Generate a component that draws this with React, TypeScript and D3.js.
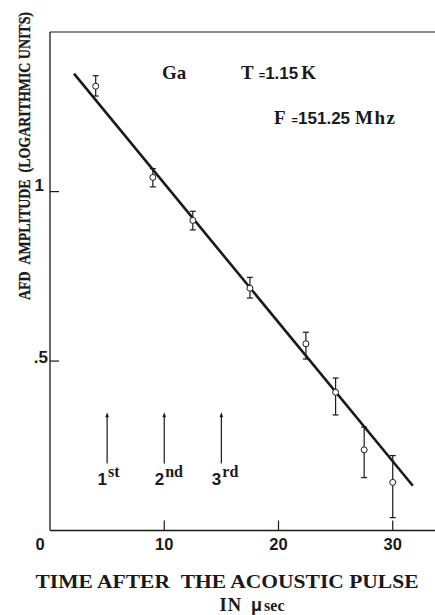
import React from "react";
import * as d3 from "d3";

const times = [4, 9, 12.5, 17.5, 22.4, 25, 27.5, 30];
const amps = [1.311, 1.042, 0.915, 0.715, 0.551, 0.408, 0.238, 0.142];
const errHigh = [1.342, 1.068, 0.942, 0.747, 0.585, 0.45, 0.305, 0.221];
const errLow = [1.282, 1.014, 0.887, 0.686, 0.506, 0.341, 0.156, 0.038];
const fitX = [2.1, 31.76];
const fitY = [1.348, 0.132];
const xTicks = [10, 20, 30];
const xTickLabels = ["0", "10", "20", "30"];
const xTickLabelPos = [0, 10, 20, 30];
const yTicks = [1, 0.5];
const yTickLabels = ["1", ".5"];
const arrowX = [5, 10, 15];
const arrowTop = 0.349;
const arrowBottom = 0.198;
const arrowDigits = ["1", "2", "3"];
const arrowSup = ["st", "nd", "rd"];

const SERIF = "'Liberation Serif', 'DejaVu Serif', serif";
const SANS = "'Liberation Sans', Arial, sans-serif";
const NB = "\u00A0";

export default function App() {
  const x = d3.scaleLinear().domain([0, 33.7]).range([50, 435]);
  const y = d3.scaleLinear().domain([0, 1.471]).range([530.5, 32]);
  const line = d3
    .line<number>()
    .x((d, i) => x(fitX[i]))
    .y((d) => y(d));
  const ink = "#1a1a1a";

  return (
    <svg
      width={435}
      height={615}
      style={{ position: "absolute", left: 0, top: 0, background: "#fff" }}
    >
      {/* frame */}
      <line x1={x(0)} x2={435} y1={y(0)} y2={y(0)} stroke={ink} strokeWidth={1.3} />
      <line x1={x(0)} x2={x(0)} y1={y(0)} y2={y(1.471)} stroke={ink} strokeWidth={1.3} />
      <line x1={x(0)} x2={435} y1={y(1.471)} y2={y(1.471)} stroke={ink} strokeWidth={1.1} />

      {/* x ticks */}
      {xTicks.map((t) => (
        <line key={t} x1={x(t)} x2={x(t)} y1={y(0)} y2={y(0) - 10} stroke={ink} strokeWidth={1.2} />
      ))}
      {xTickLabels.map((l, i) => (
        <text
          key={l}
          x={x(xTickLabelPos[i]) - (i === 0 ? 10 : 0)}
          y={550}
          textAnchor="middle"
          fontFamily={SANS}
          fontWeight="bold"
          fontSize={16.5}
          fill={ink}
        >
          {l}
        </text>
      ))}

      {/* y ticks */}
      {yTicks.map((t) => (
        <line key={t} x1={x(0)} x2={x(0) + 9} y1={y(t)} y2={y(t)} stroke={ink} strokeWidth={1.2} />
      ))}
      {yTickLabels.map((l, i) => (
        <text
          key={l}
          x={i === 0 ? 44 : 48}
          y={y(yTicks[i]) + (i === 0 ? -1 : 2)}
          textAnchor="end"
          fontFamily={SANS}
          fontWeight="bold"
          fontSize={17}
          fill={ink}
        >
          {l}
        </text>
      ))}

      {/* fit line */}
      <path d={line(fitY) || ""} fill="none" stroke={ink} strokeWidth={2.6} />

      {/* error bars + points */}
      {times.map((t, i) => (
        <g key={t}>
          <line x1={x(t)} x2={x(t)} y1={y(errHigh[i])} y2={y(errLow[i])} stroke={ink} strokeWidth={1.2} />
          <line x1={x(t) - 3} x2={x(t) + 3} y1={y(errHigh[i])} y2={y(errHigh[i])} stroke={ink} strokeWidth={1.2} />
          <line x1={x(t) - 3} x2={x(t) + 3} y1={y(errLow[i])} y2={y(errLow[i])} stroke={ink} strokeWidth={1.2} />
          <circle cx={x(t)} cy={y(amps[i])} r={3} fill="#fff" stroke={ink} strokeWidth={1} />
        </g>
      ))}

      {/* arrows */}
      {arrowX.map((a, i) => (
        <g key={a}>
          <line x1={x(a)} x2={x(a)} y1={y(arrowTop) + 3} y2={y(arrowBottom)} stroke={ink} strokeWidth={1.2} />
          <path
            d={`M${x(a)},${y(arrowTop)} L${x(a) - 1.8},${y(arrowTop) + 5} L${x(a) + 1.8},${y(arrowTop) + 5} Z`}
            fill={ink}
          />
          <text x={x(a) - 9.5} y={485} fill={ink}>
            <tspan fontFamily={SANS} fontWeight="bold" fontSize={17}>
              {arrowDigits[i]}
            </tspan>
            <tspan fontFamily={SERIF} fontWeight="bold" fontSize={16} dy={-8} dx={1}>
              {arrowSup[i]}
            </tspan>
          </text>
        </g>
      ))}

      {/* annotations */}
      <text x={162} y={79} fontFamily={SERIF} fontWeight="bold" fontSize={19} fill={ink}>
        Ga
      </text>
      <text x={241} y={79} fill={ink}>
        <tspan fontFamily={SERIF} fontWeight="bold" fontSize={19}>T</tspan>
        <tspan fontFamily={SANS} fontWeight="bold" fontSize={11} dx={5}>=</tspan>
        <tspan fontFamily={SANS} fontWeight="bold" fontSize={17}>1.15</tspan>
        <tspan fontFamily={SERIF} fontWeight="bold" fontSize={19} dx={3}>K</tspan>
      </text>
      <text x={274} y={124} fill={ink}>
        <tspan fontFamily={SERIF} fontWeight="bold" fontSize={19}>F</tspan>
        <tspan fontFamily={SANS} fontWeight="bold" fontSize={11} dx={6}>=</tspan>
        <tspan fontFamily={SANS} fontWeight="bold" fontSize={17}>151.25</tspan>
        <tspan fontFamily={SERIF} fontWeight="bold" fontSize={19} dx={5} letterSpacing={1.5}>Mhz</tspan>
      </text>

      {/* axis titles */}
      <text
        transform="translate(30,156) rotate(-90)"
        textAnchor="middle"
        fontFamily={SERIF}
        fontWeight="bold"
        fontSize={16}
        fill={ink}
        stroke={ink}
        strokeWidth={0.3}
        textLength={288}
        lengthAdjust="spacingAndGlyphs"
      >
        {`AFD${NB}${NB}AMPLITUDE${NB}${NB}(LOGARITHMIC UNITS)`}
      </text>
      <text
        x={227}
        y={588}
        textAnchor="middle"
        fontFamily={SERIF}
        fontWeight="bold"
        fontSize={18.5}
        fill={ink}
        textLength={383}
        lengthAdjust="spacingAndGlyphs"
      >
        {`TIME AFTER${NB}${NB}THE ACOUSTIC PULSE`}
      </text>
      <text x={252} y={611} textAnchor="middle" fill={ink} fontWeight="bold">
        <tspan fontFamily={SERIF} fontSize={18.5} letterSpacing={1}>IN</tspan>
        <tspan fontFamily={SANS} fontSize={18} dx={9}>μ</tspan>
        <tspan fontFamily={SERIF} fontSize={16} dx={2}>sec</tspan>
      </text>
    </svg>
  );
}
